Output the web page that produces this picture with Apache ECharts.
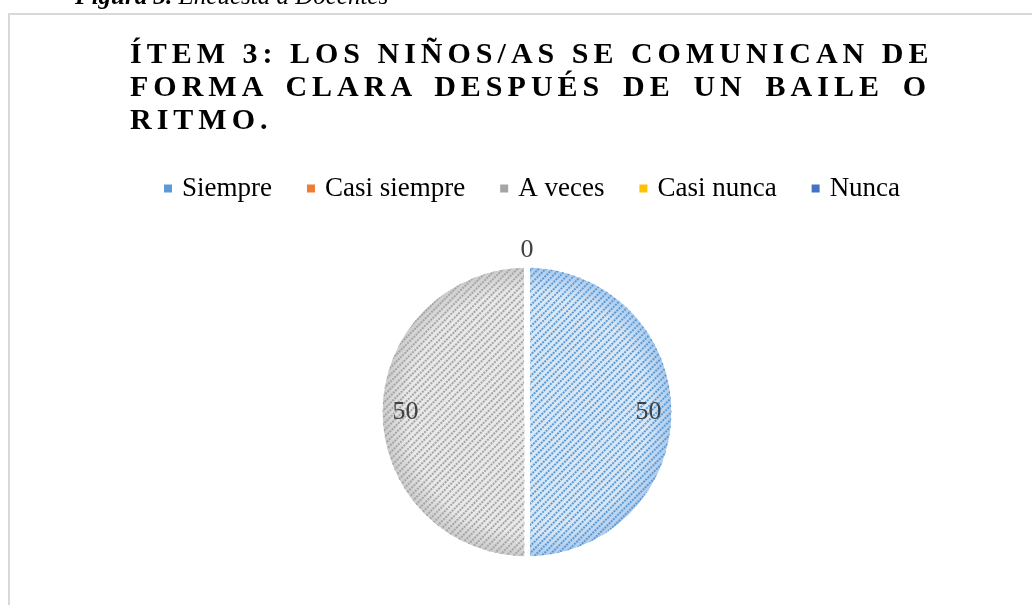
<!DOCTYPE html>
<html>
<head>
<meta charset="utf-8">
<script src="https://cdn.jsdelivr.net/npm/echarts@6/dist/echarts.min.js"></script>
<style>
  html, body { margin: 0; padding: 0; background: #fff; overflow: hidden; }
  #chart { position: absolute; left: 0; top: 0; width: 1032px; height: 605px; }
  #frame {
    position: absolute; left: 8px; top: 13px; width: 1040px; height: 620px;
    border: 2px solid #d9d9d9; box-sizing: border-box;
  }
  #caption {
    position: absolute; left: 75px; top: -16px; font-family: 'Liberation Serif', serif;
    font-size: 25px; line-height: 24px; font-style: italic; color: #000; white-space: nowrap;
  }
  #title {
    position: absolute; left: 130px; top: 36px; width: 801px; font-family: 'Liberation Serif', serif;
    font-size: 30px; line-height: 33px; font-weight: bold; letter-spacing: 5px; color: #000;
  }
  #title .j { text-align: justify; text-align-last: justify; white-space: nowrap; }
</style>
</head>
<body>
<div id="frame"></div>
<div id="chart"></div>
<div id="caption"><b>Figura 3.</b> Encuesta a Docentes</div>
<div id="title">
  <div class="j">ÍTEM 3: LOS NIÑOS/AS SE COMUNICAN DE</div>
  <div class="j">FORMA CLARA DESPUÉS DE UN BAILE O</div>
  <div>RITMO.</div>
</div>
<script>
const categories = ['Siempre', 'Casi siempre', 'A veces', 'Casi nunca', 'Nunca']
const values = [50, 0, 50, 0, 0]
const colors = ['#5b9bd5', '#ed7d31', '#a5a5a5', '#ffc000', '#4472c4']
// fondo claro de cada trama
const lightColors = ['#dae8f6', '#fbe0cd', '#e9e9e9', '#fff0c2', '#d3def2']
const edgeColors = ['#a9c8ec', '#f4b88e', '#c9c9c9', '#ffdc80', '#9fb6e3']

const cx = 527
const cy = 412
const radius = 147

const chart = echarts.init(document.getElementById('chart'), null, { renderer: 'canvas' })

const pieData = categories.map((name, i) => ({
  name,
  value: values[i],
  itemStyle: {
    color: {
      type: 'radial', x: cx, y: cy, r: radius, global: true,
      colorStops: [
        { offset: 0, color: lightColors[i] },
        { offset: 0.82, color: lightColors[i] },
        { offset: 1, color: edgeColors[i] },
      ],
    },
    decal: {
      symbol: 'rect',
      symbolSize: 1,
      dashArrayX: [2, 1],
      dashArrayY: [2, 3],
      rotation: -Math.PI / 4,
      color: colors[i],
    },
  },
}))

// serie transparente para las etiquetas de 50
const labelData = categories.map((name, i) => ({
  name,
  value: values[i],
  label: { show: values[i] > 0 },
}))

// etiqueta del 0 por encima del círculo
const zeroData = categories.map((name, i) => ({
  name,
  value: values[i],
  label: { show: name === 'Casi nunca' },
}))

const labelStyle = {
  position: 'inside',
  formatter: '{c}',
  fontFamily: 'Liberation Serif',
  fontSize: 26,
  color: '#404040',
}

const option = {
  animation: false,
  backgroundColor: 'transparent',
  color: colors,
  legend: {
    data: categories.map((name, i) => ({
      name,
      itemStyle: { color: colors[i], decal: 'none' },
    })),
    left: 162,
    top: 175,
    padding: 0,
    itemGap: 33,
    itemWidth: 10,
    itemHeight: 10,
    icon: 'rect',
    textStyle: {
      fontFamily: 'Liberation Serif',
      fontSize: 27,
      color: '#000',
      padding: [0, 0, 0, 4],
    },
  },
  series: [
    {
      name: 'item3',
      type: 'pie',
      center: [cx, cy],
      radius: [0, radius],
      startAngle: 90,
      clockwise: true,
      silent: true,
      label: { show: false },
      labelLine: { show: false },
      itemStyle: { borderColor: '#fff', borderWidth: 5 },
      data: pieData,
    },
    {
      name: 'labels',
      type: 'pie',
      center: [cx, cy],
      radius: [92, 145],
      startAngle: 90,
      clockwise: true,
      silent: true,
      avoidLabelOverlap: false,
      itemStyle: { color: 'rgba(0,0,0,0)' },
      label: labelStyle,
      labelLine: { show: false },
      data: labelData,
    },
    {
      name: 'zero',
      type: 'pie',
      center: [cx, cy],
      radius: [150, 168],
      startAngle: 90,
      clockwise: true,
      silent: true,
      avoidLabelOverlap: false,
      itemStyle: { color: 'rgba(0,0,0,0)' },
      label: labelStyle,
      labelLine: { show: false },
      data: zeroData,
    },
  ],
}

chart.setOption(option)
</script>
</body>
</html>
